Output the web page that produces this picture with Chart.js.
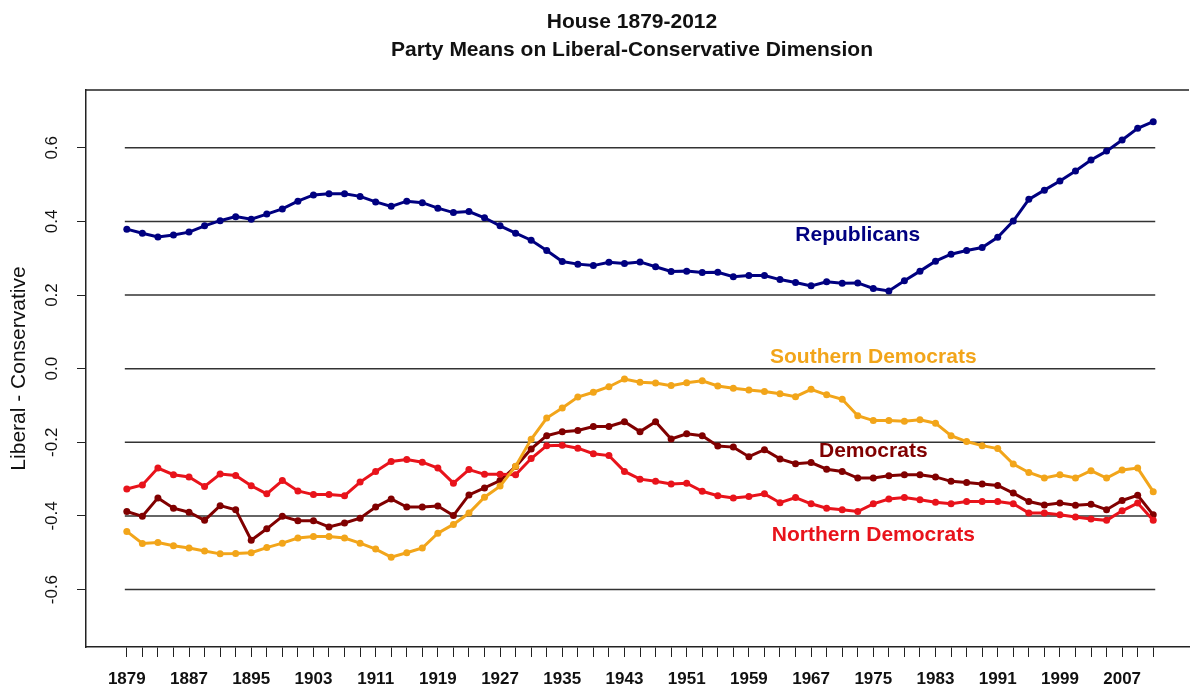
<!DOCTYPE html>
<html>
<head>
<meta charset="utf-8">
<title>House 1879-2012</title>
<script src="https://cdn.jsdelivr.net/npm/chart.js@4.4.1/dist/chart.umd.min.js"></script>
<style>
    html, body { margin: 0; padding: 0; background: #fff; overflow: hidden; }
    #wrap { width: 1193px; height: 689px; }
</style>
</head>
<body>
<div id="wrap"><canvas id="myChart" width="1193" height="689"></canvas></div>
<script>
// one point per Congress, start year
const years = [
    1879, 1881, 1883, 1885, 1887, 1889, 1891, 1893, 1895, 1897,
    1899, 1901, 1903, 1905, 1907, 1909, 1911, 1913, 1915, 1917,
    1919, 1921, 1923, 1925, 1927, 1929, 1931, 1933, 1935, 1937,
    1939, 1941, 1943, 1945, 1947, 1949, 1951, 1953, 1955, 1957,
    1959, 1961, 1963, 1965, 1967, 1969, 1971, 1973, 1975, 1977,
    1979, 1981, 1983, 1985, 1987, 1989, 1991, 1993, 1995, 1997,
    1999, 2001, 2003, 2005, 2007, 2009, 2011
];

const republicans = [
    0.379, 0.368, 0.358, 0.363, 0.371, 0.388, 0.402, 0.413, 0.406, 0.420,
    0.434, 0.455, 0.472, 0.475, 0.475, 0.468, 0.453, 0.441, 0.455, 0.451,
    0.436, 0.424, 0.427, 0.410, 0.388, 0.368, 0.349, 0.321, 0.291, 0.284,
    0.280, 0.289, 0.286, 0.290, 0.277, 0.264, 0.265, 0.261, 0.262, 0.250,
    0.253, 0.253, 0.242, 0.234, 0.225, 0.236, 0.232, 0.233, 0.218, 0.211,
    0.239, 0.265, 0.292, 0.311, 0.321, 0.329, 0.357, 0.401, 0.460, 0.485,
    0.510, 0.537, 0.567, 0.591, 0.621, 0.653, 0.671
];

const democrats = [
    -0.388, -0.401, -0.351, -0.379, -0.390, -0.412, -0.372, -0.383, -0.466, -0.435,
    -0.401, -0.413, -0.413, -0.430, -0.419, -0.406, -0.376, -0.354, -0.376, -0.376,
    -0.373, -0.399, -0.343, -0.324, -0.304, -0.266, -0.218, -0.182, -0.171, -0.168,
    -0.157, -0.157, -0.144, -0.171, -0.144, -0.191, -0.177, -0.182, -0.210, -0.213,
    -0.239, -0.220, -0.245, -0.258, -0.255, -0.273, -0.279, -0.297, -0.297, -0.291,
    -0.288, -0.288, -0.294, -0.306, -0.309, -0.313, -0.317, -0.338, -0.361, -0.370,
    -0.365, -0.371, -0.368, -0.383, -0.358, -0.344, -0.397
];

const northernDems = [
    -0.327, -0.316, -0.270, -0.288, -0.294, -0.320, -0.286, -0.290, -0.318, -0.340,
    -0.304, -0.332, -0.342, -0.342, -0.345, -0.308, -0.279, -0.252, -0.247, -0.254,
    -0.270, -0.311, -0.274, -0.287, -0.287, -0.288, -0.244, -0.209, -0.208, -0.216,
    -0.231, -0.236, -0.279, -0.300, -0.306, -0.313, -0.311, -0.333, -0.345, -0.351,
    -0.347, -0.340, -0.364, -0.350, -0.367, -0.379, -0.383, -0.388, -0.367, -0.354,
    -0.350, -0.356, -0.363, -0.367, -0.361, -0.361, -0.361, -0.367, -0.392, -0.392,
    -0.397, -0.403, -0.408, -0.412, -0.386, -0.365, -0.412
];

const southernDems = [
    -0.442, -0.475, -0.472, -0.481, -0.487, -0.495, -0.503, -0.502, -0.500, -0.486,
    -0.474, -0.460, -0.456, -0.456, -0.460, -0.474, -0.490, -0.512, -0.500, -0.487,
    -0.447, -0.423, -0.392, -0.349, -0.319, -0.265, -0.192, -0.134, -0.107, -0.077,
    -0.064, -0.049, -0.028, -0.037, -0.039, -0.046, -0.038, -0.033, -0.047, -0.053,
    -0.058, -0.062, -0.068, -0.076, -0.056, -0.071, -0.083, -0.128, -0.141, -0.141,
    -0.143, -0.139, -0.148, -0.182, -0.198, -0.209, -0.217, -0.259, -0.282, -0.297,
    -0.288, -0.297, -0.277, -0.297, -0.275, -0.270, -0.334
];

const xTickLabels = ['1879', '1887', '1895', '1903', '1911', '1919', '1927', '1935',
    '1943', '1951', '1959', '1967', '1975', '1983', '1991', '1999', '2007'];
const yTicks = [-0.6, -0.4, -0.2, 0.0, 0.2, 0.4, 0.6];
const yTickLabels = ['-0.6', '-0.4', '-0.2', '0.0', '0.2', '0.4', '0.6'];

const titleLines = ['House 1879-2012', 'Party Means on Liberal-Conservative Dimension'];
const yTitle = 'Liberal - Conservative';

const FONT = "'Liberation Sans', Arial, sans-serif";

// where each series name sits, in data units (year, score)
const labelSpots = {
    'Republicans': [1973.0, 0.362],
    'Southern Democrats': [1975.0, 0.031],
    'Democrats': [1975.0, -0.224],
    'Northern Democrats': [1975.0, -0.452]
};

function series(label, values, color) {
    return {
        label: label,
        data: years.map((yr, i) => ({ x: yr, y: values[i] })),
        borderColor: color,
        backgroundColor: color,
        pointBackgroundColor: color,
        pointBorderColor: color,
        borderWidth: 3,
        pointRadius: 3.5,
        pointBorderWidth: 0,
        tension: 0
    };
}

const boxAndText = {
    id: 'boxAndText',
    beforeDatasetsDraw(chart) {
        const { ctx, chartArea, scales: { x, y } } = chart;
        ctx.save();
        ctx.strokeStyle = '#333';
        ctx.lineWidth = 1.5;
        const x0 = x.getPixelForValue(years[0]) - 2;
        const x1 = x.getPixelForValue(years[years.length - 1]) + 2;
        yTicks.forEach(v => {
            const py = y.getPixelForValue(v);
            ctx.beginPath();
            ctx.moveTo(x0, py);
            ctx.lineTo(x1, py);
            ctx.stroke();
        });
        // top edge of the box (right edge falls outside the picture)
        ctx.strokeStyle = '#222';
        ctx.beginPath();
        ctx.moveTo(chartArea.left, chartArea.top);
        ctx.lineTo(chartArea.right, chartArea.top);
        ctx.stroke();
        ctx.restore();
    },
    afterDraw(chart) {
        const { ctx, scales: { x, y } } = chart;
        ctx.save();
        ctx.textAlign = 'center';
        ctx.textBaseline = 'middle';
        ctx.fillStyle = '#111';
        ctx.font = 'bold 21px ' + FONT;
        ctx.fillText(titleLines[0], 632, 22);
        ctx.fillText(titleLines[1], 632, 50);

        chart.data.datasets.forEach(ds => {
            const spot = labelSpots[ds.label];
            if (!spot) return;
            ctx.fillStyle = ds.borderColor;
            ctx.fillText(ds.label, x.getPixelForValue(spot[0]), y.getPixelForValue(spot[1]));
        });
        ctx.restore();
    }
};

document.addEventListener('DOMContentLoaded', () => {
    const ctx = document.getElementById('myChart').getContext('2d');
    const myChart = new Chart(ctx, {
        type: 'line',
        data: {
            datasets: [
                series('Southern Democrats', southernDems, '#f2a51a'),
                series('Northern Democrats', northernDems, '#e8131b'),
                series('Democrats', democrats, '#800000'),
                series('Republicans', republicans, '#000080')
            ]
        },
        plugins: [boxAndText],
        options: {
            responsive: false,
            animation: false,
            devicePixelRatio: 1,
            layout: { padding: { top: 90, left: 0, right: 0, bottom: 0 } },
            plugins: {
                legend: { display: false },
                title: { display: false },
                tooltip: { enabled: false }
            },
            scales: {
                x: {
                    type: 'linear',
                    min: 1873.75,
                    max: 2015.6,
                    afterBuildTicks: (scale) => {
                        scale.ticks = years.map(v => ({ value: v }));
                    },
                    afterFit: (scale) => { scale.height = 42; },
                    grid: {
                        drawOnChartArea: false,
                        drawTicks: true,
                        tickLength: 10,
                        tickWidth: 1,
                        tickColor: '#222'
                    },
                    border: { display: true, color: '#222', width: 1.5 },
                    ticks: {
                        autoSkip: false,
                        maxRotation: 0,
                        minRotation: 0,
                        padding: 12,
                        color: '#111',
                        font: { family: FONT, size: 17, weight: 'bold' },
                        callback: (v) => xTickLabels.includes(String(v)) ? String(v) : ''
                    }
                },
                y: {
                    min: -0.756,
                    max: 0.757,
                    afterBuildTicks: (scale) => {
                        scale.ticks = yTicks.map(v => ({ value: v }));
                    },
                    afterFit: (scale) => { scale.width = 86; },
                    grid: {
                        drawOnChartArea: false,
                        drawTicks: true,
                        tickLength: 9,
                        tickWidth: 1,
                        tickColor: '#222'
                    },
                    border: { display: true, color: '#222', width: 1.5 },
                    ticks: {
                        minRotation: 90,
                        maxRotation: 90,
                        crossAlign: 'center',
                        padding: 10,
                        color: '#111',
                        font: { family: FONT, size: 17 },
                        callback: (v) => yTickLabels[yTicks.indexOf(v)]
                    },
                    title: {
                        display: true,
                        text: yTitle,
                        color: '#111',
                        padding: { top: 7, bottom: 0 },
                        font: { family: FONT, size: 21 }
                    }
                }
            }
        }
    });
});
</script>
</body>
</html>
